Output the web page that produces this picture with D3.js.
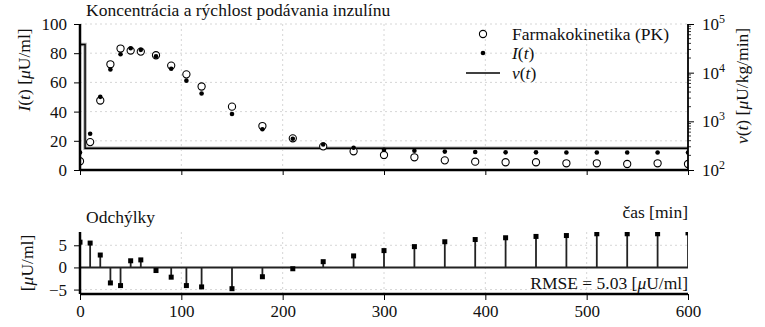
<!DOCTYPE html>
<html><head><meta charset="utf-8">
<script src="https://cdn.jsdelivr.net/npm/d3@7"></script>
<style>
body{margin:0;background:#fff;}
text{font-family:"Liberation Serif","DejaVu Serif",serif;fill:#111;}
</style></head><body>
<svg id="c" width="765" height="327"></svg>
<script>
// ---- data ----
const times = [0,10,20,30,40,50,60,75,90,105,120,150,180,210,240,270,300,330,360,390,420,450,480,510,540,570,600];
const pkValues = [6.0,19.1,47.6,72.4,83.2,81.8,81.1,78.6,71.5,65.5,57.2,43.4,30.1,21.7,16.2,12.8,10.3,8.7,6.6,5.7,5.3,5.3,4.6,4.6,4.1,4.6,4.1];
const iValues = [12.0,24.8,50.1,68.8,79.3,83.4,82.3,77.9,69.4,61.2,52.4,38.4,27.9,21.4,17.5,15.2,13.8,13.2,12.6,12.3,12.1,12.1,12.0,12.0,12.0,12.0,12.0];
const residuals = [5.7,5.5,2.8,-3.5,-4.1,1.5,1.7,-0.7,-2.2,-4.1,-4.4,-4.8,-2.1,-0.3,1.3,2.6,3.8,4.7,5.8,6.3,6.7,7.0,7.2,7.6,7.6,7.6,7.8];
const vTimes = [0,5,600];
const vRates = [38000,280,280];
const xTicks = [0,100,200,300,400,500,600];
const yTicks = [0,20,40,60,80,100];
const vTicks = [1e2,1e3,1e4,1e5];
const rTicks = [-5,0,5];
const rmse = "5.03";

const svg = d3.select("#c");
const x = d3.scaleLinear([0,600],[80,688]);
const y = d3.scaleLinear([0,100],[170,24]);
const yv = d3.scaleLog([1e2,1e5],[170,24]);
const yr = d3.scaleLinear([-6,8],[294,232]);
const FS = 17;     // tick labels
const TS = 17.5;   // other texts

// ---- top panel ----
const gTop = svg.append("g");
gTop.selectAll(".gx").data(xTicks.filter(d=>d>0&&d<600)).join("line")
  .attr("x1",d=>x(d)).attr("x2",d=>x(d)).attr("y1",24).attr("y2",170)
  .attr("stroke","#ccc").attr("stroke-width",0.8).attr("stroke-dasharray","2,3");
gTop.selectAll(".gy").data(yTicks.filter(d=>d>0)).join("line")
  .attr("x1",80).attr("x2",688).attr("y1",d=>y(d)).attr("y2",d=>y(d))
  .attr("stroke","#ccc").attr("stroke-width",0.8).attr("stroke-dasharray","2,3");

// v(t) step line
const vData = vTimes.map((t,i)=>[t,vRates[i]]);
const vLine = d3.line().x(d=>x(d[0])).y(d=>yv(d[1])).curve(d3.curveStepAfter);
gTop.append("path").attr("d",vLine(vData)).attr("fill","none").attr("stroke","#aaa").attr("stroke-width",3.4);
gTop.append("path").attr("d",vLine(vData)).attr("fill","none").attr("stroke","#000").attr("stroke-width",1.4);

svg.append("clipPath").attr("id","clipTop").append("rect").attr("x",80).attr("y",20).attr("width",608).attr("height",152);
const pts = gTop.append("g").attr("clip-path","url(#clipTop)");
pts.selectAll(".pk").data(times).join("circle")
  .attr("cx",d=>x(d)).attr("cy",(d,i)=>y(pkValues[i])).attr("r",3.6)
  .attr("fill","#fff").attr("stroke","#000").attr("stroke-width",1.1);
pts.selectAll(".it").data(times).join("circle")
  .attr("cx",d=>x(d)).attr("cy",(d,i)=>y(iValues[i])).attr("r",2.3)
  .attr("fill","#000");

// axes
const axL = d3.axisLeft(y).tickValues(yTicks).tickSize(6).tickPadding(7);
const gL = gTop.append("g").attr("transform","translate(80,0)").call(axL);
const axB = d3.axisBottom(x).tickValues(xTicks).tickSize(5).tickPadding(5);
const gB = gTop.append("g").attr("transform","translate(0,170)").call(axB);
gB.selectAll("text").remove();
const axR = d3.axisRight(yv).tickValues(vTicks).tickSize(6).tickPadding(5).tickFormat("");
const gR = gTop.append("g").attr("transform","translate(688,0)").call(axR);
const minors = [];
for (let e=2;e<5;e++) for (let m=2;m<10;m++) minors.push(m*Math.pow(10,e));
gR.selectAll(".mt").data(minors).join("line").attr("x1",0).attr("x2",3)
  .attr("y1",d=>yv(d)).attr("y2",d=>yv(d)).attr("stroke","#000").attr("stroke-width",0.8);
[gL,gB,gR].forEach(g=>{
  g.selectAll("text").attr("font-size",FS).attr("font-family","Liberation Serif").attr("fill","#111");
  g.selectAll(".tick line").attr("stroke","#000").attr("stroke-width",1);
});
gR.selectAll(".lbl").data(vTicks).join("text").attr("class","lbl")
  .attr("x",14).attr("y",d=>yv(d)+6).attr("font-size",FS)
  .each(function(d){
    const t=d3.select(this);
    t.append("tspan").text("10");
    t.append("tspan").attr("dy",-7).attr("font-size",12).text(String(Math.round(Math.log10(d))));
  });
gL.select(".domain").attr("d","M0,24V170").attr("stroke","#000").attr("stroke-width",2.5);
gB.select(".domain").attr("d","M80,0H688").attr("stroke","#000").attr("stroke-width",2.5);
gR.select(".domain").attr("d","M0,24V170").attr("stroke","#000").attr("stroke-width",1.8);

// legend
const lg = gTop.append("g");
lg.append("circle").attr("cx",483).attr("cy",34).attr("r",3.6).attr("fill","#fff").attr("stroke","#000").attr("stroke-width",1.1);
lg.append("text").attr("x",512).attr("y",40).attr("font-size",TS).text("Farmakokinetika (PK)");
lg.append("circle").attr("cx",483).attr("cy",53).attr("r",2.3).attr("fill","#000");
lg.append("text").attr("x",512).attr("y",59).attr("font-size",TS).html('<tspan font-style="italic">I</tspan>(<tspan font-style="italic">t</tspan>)');
lg.append("line").attr("x1",466).attr("x2",500).attr("y1",73).attr("y2",73).attr("stroke","#000").attr("stroke-width",1.4);
lg.append("text").attr("x",512).attr("y",79).attr("font-size",TS).html('<tspan font-style="italic">v</tspan>(<tspan font-style="italic">t</tspan>)');

// titles / labels
svg.append("text").attr("x",86).attr("y",16).attr("font-size",TS).text("Koncentrácia a rýchlost podávania inzulínu");
svg.append("text").attr("transform","translate(30,70) rotate(-90)").attr("text-anchor","middle").attr("font-size",TS)
  .html('<tspan font-style="italic">I</tspan>(<tspan font-style="italic">t</tspan>) [<tspan font-style="italic">μ</tspan>U/ml]');
svg.append("text").attr("transform","translate(748,86) rotate(-90)").attr("text-anchor","middle").attr("font-size",TS)
  .html('<tspan font-style="italic">v</tspan>(<tspan font-style="italic">t</tspan>) [<tspan font-style="italic">μ</tspan>U/kg/min]');
svg.append("text").attr("x",688).attr("y",218).attr("text-anchor","end").attr("font-size",TS).text("čas [min]");

// ---- bottom panel ----
const gBot = svg.append("g");
gBot.selectAll(".gx").data(xTicks.filter(d=>d>0&&d<600)).join("line")
  .attr("x1",d=>x(d)).attr("x2",d=>x(d)).attr("y1",232).attr("y2",294)
  .attr("stroke","#ccc").attr("stroke-width",0.8).attr("stroke-dasharray","2,3");
gBot.selectAll(".gy").data(rTicks.filter(d=>d!==0)).join("line")
  .attr("x1",80).attr("x2",688).attr("y1",d=>yr(d)).attr("y2",d=>yr(d))
  .attr("stroke","#ccc").attr("stroke-width",0.8).attr("stroke-dasharray","2,3");

svg.append("clipPath").attr("id","clipBot").append("rect").attr("x",80).attr("y",232).attr("width",608).attr("height",62);
const st = gBot.append("g").attr("clip-path","url(#clipBot)");
st.selectAll(".stem").data(times).join("line")
  .attr("x1",d=>x(d)).attr("x2",d=>x(d)).attr("y1",yr(0)).attr("y2",(d,i)=>yr(residuals[i]))
  .attr("stroke","#222").attr("stroke-width",1.8);
st.append("line").attr("x1",80).attr("x2",688).attr("y1",yr(0)).attr("y2",yr(0)).attr("stroke","#222").attr("stroke-width",2);
st.selectAll(".mk").data(times).join("rect")
  .attr("x",d=>x(d)-2.5).attr("y",(d,i)=>yr(residuals[i])-2.5).attr("width",5).attr("height",5).attr("fill","#000");

const axRL = d3.axisLeft(yr).tickValues(rTicks).tickSize(6).tickPadding(7).tickFormat(d=>d<0?"−"+Math.abs(d):d);
const gRL = gBot.append("g").attr("transform","translate(80,0)").call(axRL);
const axRB = d3.axisBottom(x).tickValues(xTicks).tickSize(6).tickPadding(5);
const gRB = gBot.append("g").attr("transform","translate(0,294)").call(axRB);
[gRL,gRB].forEach(g=>{
  g.selectAll("text").attr("font-size",FS).attr("font-family","Liberation Serif").attr("fill","#111");
  g.selectAll(".tick line").attr("stroke","#000").attr("stroke-width",1);
});
gRL.select(".domain").attr("d","M0,232V294").attr("stroke","#000").attr("stroke-width",2.5);
gRB.select(".domain").attr("d","M80,0H688").attr("stroke","#000").attr("stroke-width",2.5);

svg.append("text").attr("x",86).attr("y",223).attr("font-size",TS).text("Odchýlky");
svg.append("text").attr("transform","translate(33,263) rotate(-90)").attr("text-anchor","middle").attr("font-size",TS)
  .html('[<tspan font-style="italic">μ</tspan>U/ml]');
svg.append("text").attr("x",688).attr("y",289).attr("text-anchor","end").attr("font-size",TS)
  .html('RMSE = '+rmse+' [<tspan font-style="italic">μ</tspan>U/ml]');
</script></body></html>
